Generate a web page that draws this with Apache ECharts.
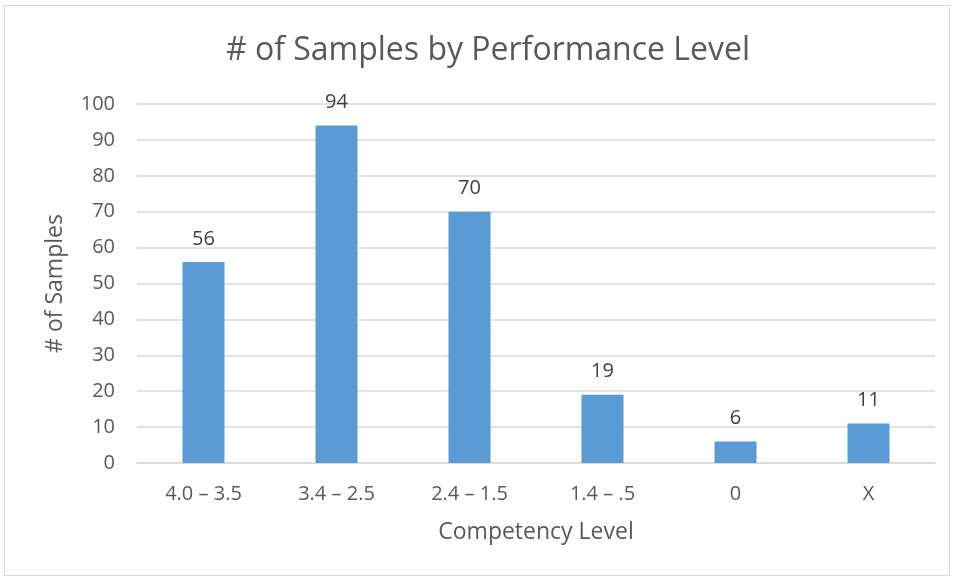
<!DOCTYPE html>
<html><head><meta charset="utf-8">
<script src="https://cdn.jsdelivr.net/npm/echarts@6/dist/echarts.min.js"></script>
<style>
html,body{margin:0;padding:0;background:#fff;}
#frame{position:absolute;left:4px;top:5px;width:946px;height:571px;border:1px solid #d9d9d9;box-sizing:border-box;}
#c{position:absolute;left:0;top:0;width:953px;height:581px;}
</style></head>
<body><div id="frame"></div><div id="c"></div>
<script>
const categories = ["4.0 – 3.5", "3.4 – 2.5", "2.4 – 1.5", "1.4 – .5", "0", "X"];
const samples = [56, 94, 70, 19, 6, 11];
const chart = echarts.init(document.getElementById('c'));
const font = "'Open Sans', 'Noto Sans', sans-serif";
chart.setOption({
  animation: false,
  title: {text: "# of Samples by Performance Level", left: 483, top: 30, textAlign: 'center',
    textStyle: {fontFamily: font, fontSize: 32, fontWeight: 'normal', color: '#595959'}},
  grid: {left: 137, right: 18, top: 104, bottom: 118},
  xAxis: {type: 'category', data: categories,
    name: 'Competency Level', nameLocation: 'middle', nameGap: 58,
    nameTextStyle: {fontFamily: font, fontSize: 23, color: '#595959'},
    axisLine: {lineStyle: {color: '#d9d9d9', width: 1.5}}, axisTick: {show: false},
    axisLabel: {fontFamily: font, fontSize: 20, color: '#595959', margin: 21}},
  yAxis: {type: 'value', min: 0, max: 100, interval: 10,
    name: '# of Samples', nameLocation: 'middle', nameGap: 70,
    nameTextStyle: {fontFamily: font, fontSize: 23, color: '#595959'},
    axisLine: {show: false}, axisTick: {show: false},
    axisLabel: {fontFamily: font, fontSize: 20, color: '#595959', margin: 22},
    splitLine: {lineStyle: {color: '#d9d9d9', width: 1.5}}},
  series: [{type: 'bar', data: samples, barWidth: 42,
    itemStyle: {color: '#5B9BD5'},
    label: {show: true, position: 'top', distance: 13, fontFamily: font, fontSize: 20, color: '#404040'}}]
});
</script></body></html>
